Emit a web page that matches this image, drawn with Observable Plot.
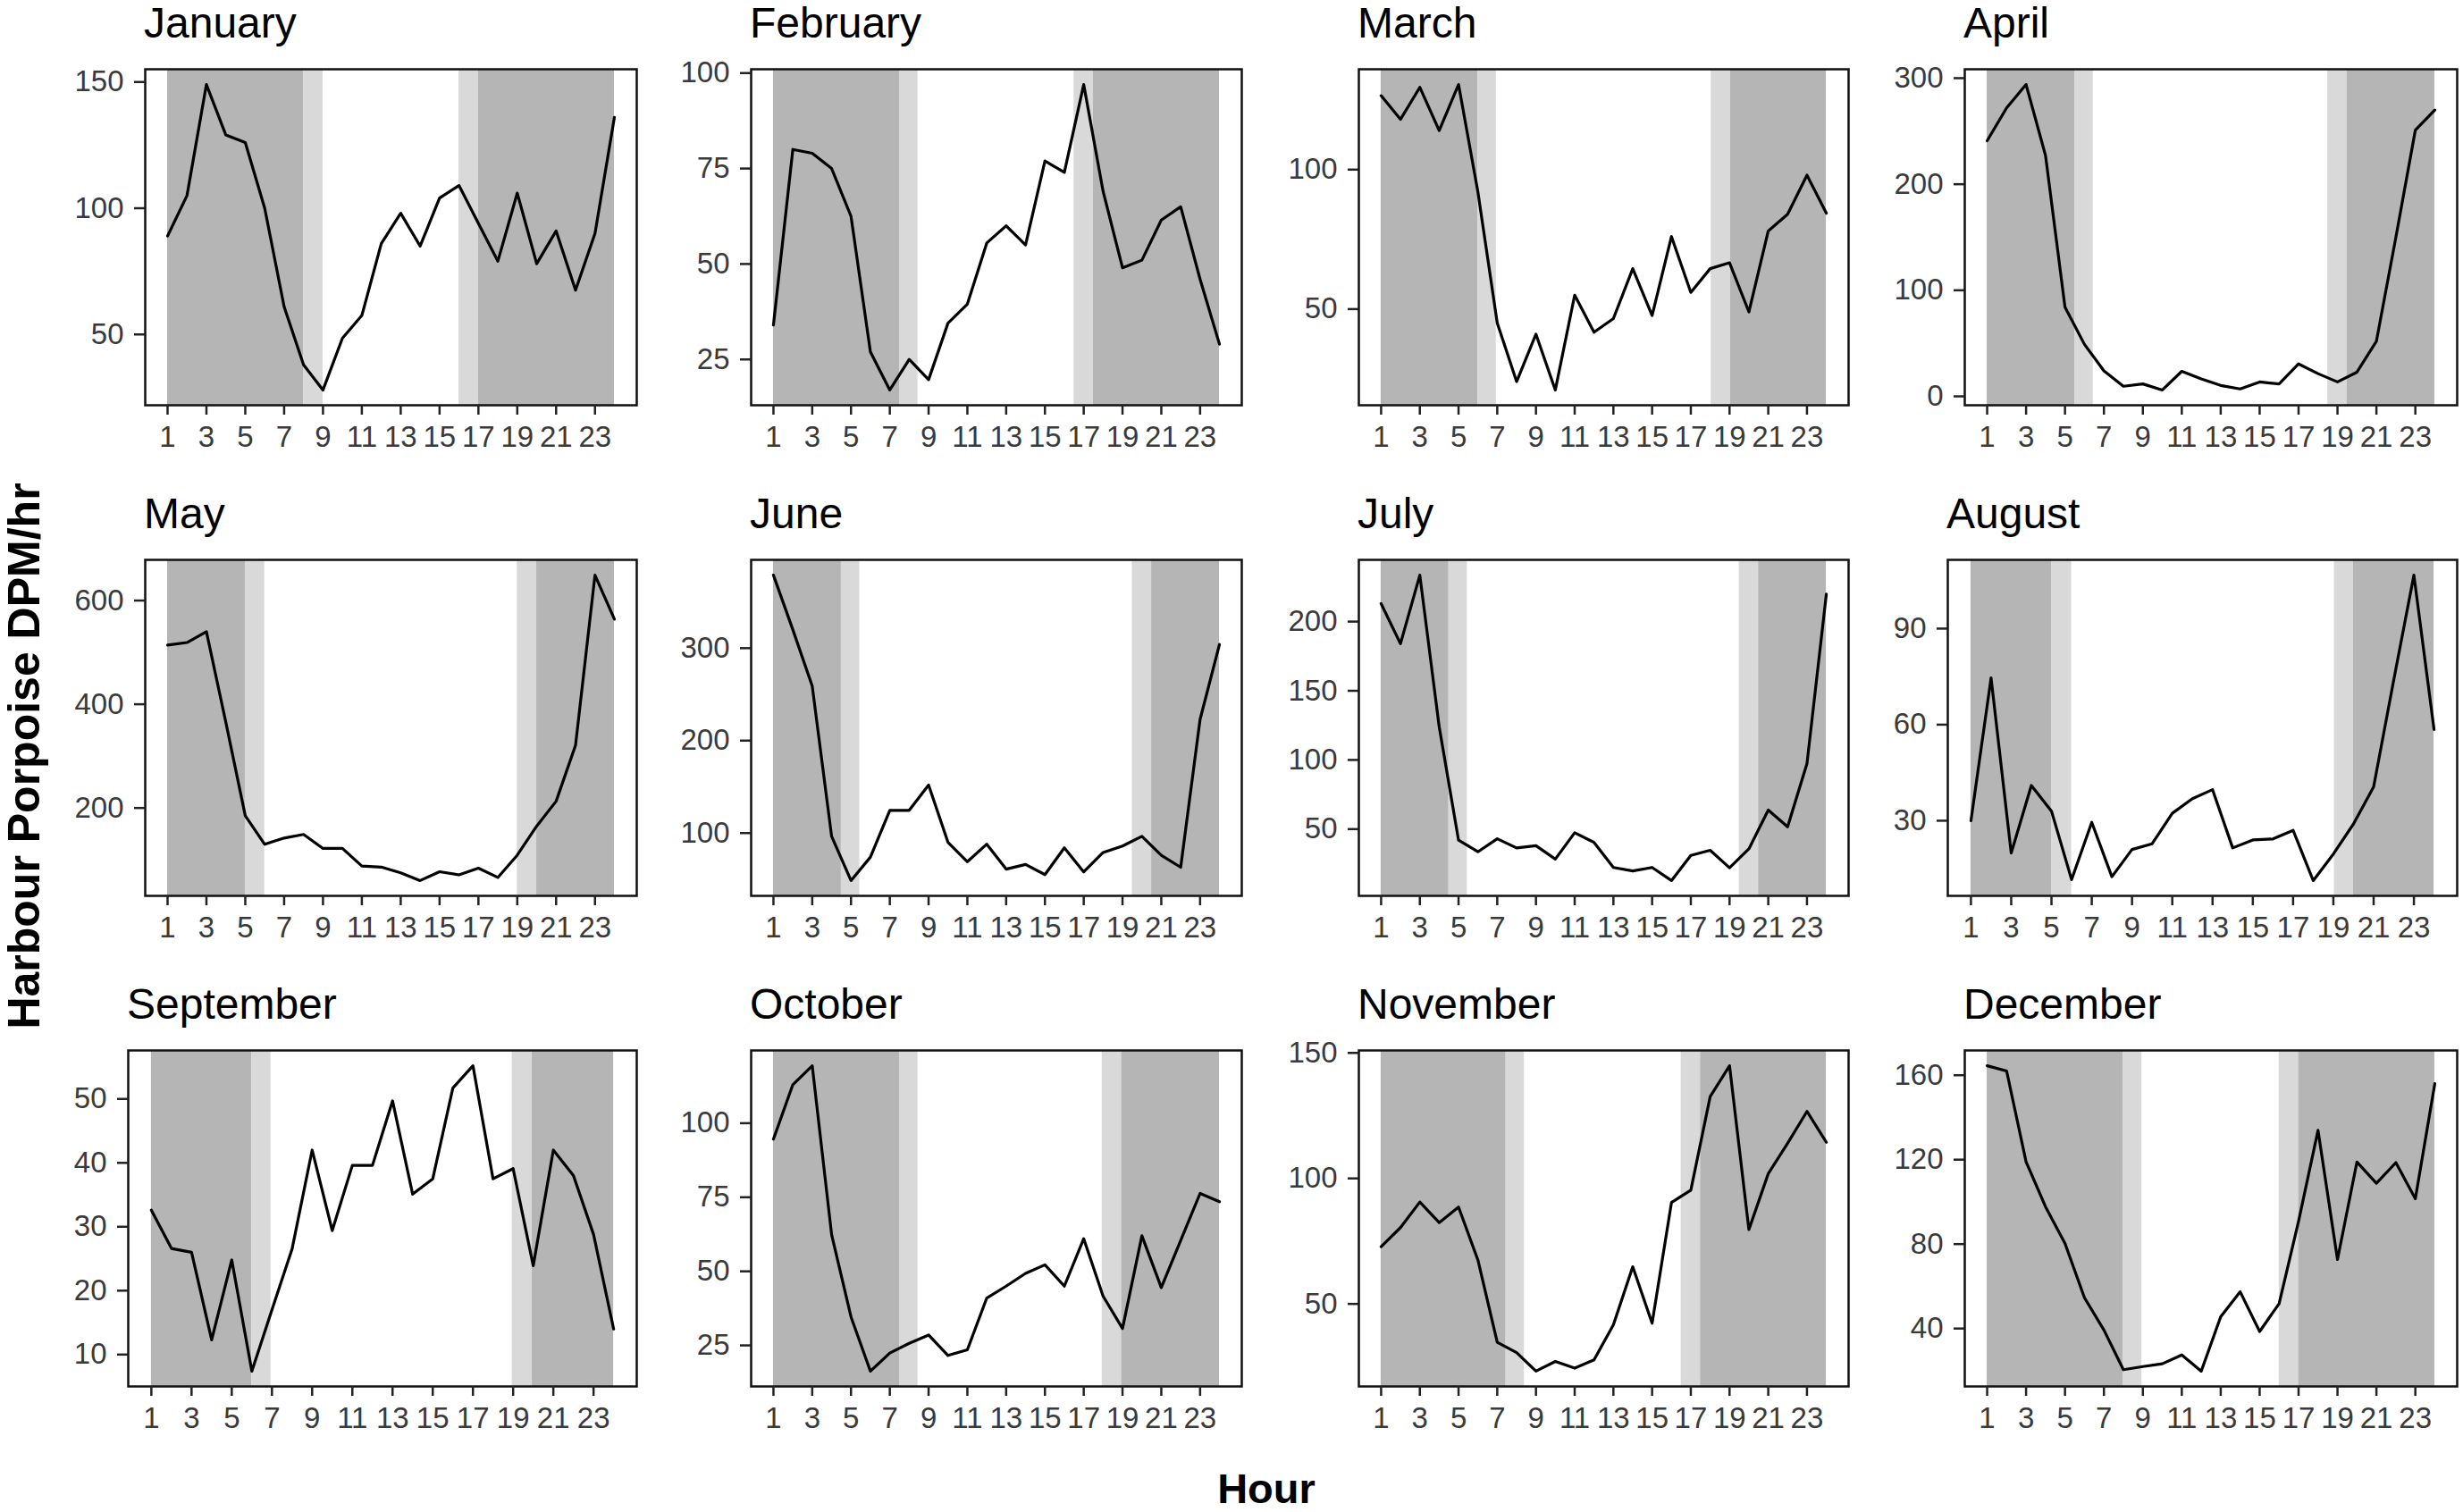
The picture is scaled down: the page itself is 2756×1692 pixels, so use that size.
<!DOCTYPE html>
<html>
<head>
<meta charset="utf-8">
<script src="https://cdn.jsdelivr.net/npm/d3@7"></script>
<script src="https://cdn.jsdelivr.net/npm/@observablehq/plot@0.6"></script>
<style>
  html, body { margin: 0; padding: 0; background: #fff; }
  #fig { position: relative; width: 2756px; height: 1692px; background: #fff; overflow: hidden;
         font-family: "Liberation Sans", Arial, sans-serif; }
  .ptitle { position: absolute; font-size: 48px; line-height: 1; color: #000; white-space: nowrap; }
  .ylab { position: absolute; font-size: 50px; font-weight: bold; line-height: 1; white-space: nowrap;
          writing-mode: vertical-rl; transform: translate(-50%, -50%) rotate(180deg); color: #000; }
  .xlab { position: absolute; font-size: 47px; font-weight: bold; line-height: 1; white-space: nowrap;
          transform: translateX(-50%); color: #000; }
  .cell { position: absolute; }
</style>
</head>
<body>
<div id="fig"></div>
<script>
// ---- data ----
const months = ["January","February","March","April","May","June","July","August","September","October","November","December"];
const hours = [1,2,3,4,5,6,7,8,9,10,11,12,13,14,15,16,17,18,19,20,21,22,23,24];
const xTicks = [1,3,5,7,9,11,13,15,17,19,21,23];

const janVals = [89, 105, 149, 129, 126, 100, 61, 38, 28, 48.5, 57.5, 86, 98, 85, 104, 109, 94, 79, 106, 78, 91, 67.5, 90, 136];
const febVals = [34, 80, 79, 75, 62.5, 27, 17, 25, 19.7, 34.5, 39.5, 55.5, 60, 55, 77, 74, 97, 69, 49, 51, 61.5, 65, 46, 29];
const marVals = [126.5, 118, 129.5, 114, 130.5, 92, 45, 24, 41, 21, 55, 41.7, 46.6, 64.5, 47.7, 76, 56, 64.5, 66.6, 49, 78, 84, 98, 84.4];
const aprVals = [241, 272, 294, 227, 84, 49, 24, 9.5, 11.7, 6, 23.6, 16.4, 10.3, 7, 13.6, 11.7, 30.6, 21.4, 13.6, 22.8, 52, 150, 251, 270];
const mayVals = [514, 519, 540, 365, 185, 130, 142, 149, 122, 122, 88, 86, 75, 60, 77, 71, 84, 66, 109, 165, 213, 321, 649, 564];
const junVals = [379, 320, 259, 96.5, 48.6, 74, 124.6, 124.6, 152, 90, 69, 88, 61, 66, 55, 84, 58, 79, 86, 96.5, 76, 63, 223, 304];
const julVals = [213, 184, 233.6, 124, 42, 33.6, 43, 36.4, 38, 28.3, 47.4, 40.4, 22.3, 19.8, 22.3, 12.8, 31, 34.7, 22, 35.7, 63.8, 51.7, 97.4, 219.8];
const augVals = [30, 74.6, 19.9, 41, 33, 11.6, 29.5, 12.5, 21, 22.8, 32.3, 36.9, 39.7, 21.5, 24, 24.3, 27, 11.3, 19.6, 29, 40.6, 74, 106.7, 58.5];
const sepVals = [32.6, 26.6, 26, 12.3, 24.8, 7.4, 17, 26.5, 42, 29.4, 39.6, 39.6, 49.7, 35.1, 37.5, 51.7, 55.2, 37.5, 39.1, 23.9, 42, 38, 28.8, 14];
const octVals = [94.6, 113, 119.4, 62.4, 34.6, 16.3, 22.4, 25.7, 28.5, 21.6, 23.5, 41, 45, 49.3, 52.2, 45, 61, 41.6, 30.7, 62, 44.5, 60.4, 76.3, 73.5];
const novVals = [72.8, 80.4, 90.6, 82.4, 88.6, 67.5, 34.7, 30.6, 23.2, 27.1, 24.4, 27.7, 41.7, 64.8, 42.3, 90.4, 95.3, 132.6, 144.9, 79.6, 101.9, 114, 126.7, 114.4];
const decVals = [164.5, 162, 119, 97.7, 80.3, 54.6, 39.3, 20.5, 22, 23.3, 27.5, 19.8, 45.6, 57.4, 38.6, 51.8, 90.8, 133.9, 72.7, 118.9, 108.8, 118.6, 101.5, 156];

const series = [janVals, febVals, marVals, aprVals, mayVals, junVals, julVals, augVals, sepVals, octVals, novVals, decVals];

// y tick labels per month
const yTicks = [
  [50,100,150], [25,50,75,100], [50,100], [0,100,200,300],
  [200,400,600], [100,200,300], [50,100,150,200], [30,60,90],
  [10,20,30,40,50], [25,50,75,100], [50,100,150], [40,80,120,160]
];

// night / twilight boundaries (hour)
const nightStart = 1, nightEnd = 24;
const dawnStart = [8, 7.5, 6, 5.5, 5, 4.5, 4.5, 5, 6, 7.5, 7.45, 8];
const dawnEnd   = [9, 8.45, 6.95, 6.45, 6, 5.45, 5.45, 6, 6.95, 8.45, 8.4, 8.95];
const duskStart = [16, 16.5, 18.05, 18.5, 19, 19.5, 19.5, 19.05, 18.95, 17.95, 16.5, 16];
const duskEnd   = [17, 17.5, 19.05, 19.5, 20, 20.5, 20.5, 20, 19.95, 18.95, 17.5, 17];

// ---- layout ----
const fig = document.getElementById("fig");
const colLabelLeft = [82, 760, 1440, 2118];
const colPanelRight = [712, 1389, 2068, 2749];
const rowPanelTop = [77, 626, 1175];
const panelH = 376;
const darkFill = "#b5b5b5", lightFill = "#d9d9d9";

months.forEach((name, i) => {
  const r = Math.floor(i / 4), c = i % 4;
  const vals = series[i];
  const ticks = yTicks[i];
  const digits = d3.max(ticks, t => String(t).length);
  const panelLeft = colLabelLeft[c] + 23 + 19 * digits;
  const svgLeft = colLabelLeft[c] - 14;
  const mTop = 30, mBottom = 72, mRight = 6;
  const svgTop = rowPanelTop[r] - mTop;
  const mLeft = panelLeft - svgLeft;
  const width = colPanelRight[c] + mRight - svgLeft;
  const height = mTop + panelH + mBottom;

  const [lo, hi] = d3.extent(vals);
  const pad = (hi - lo) * 0.05;
  const xPad = (d3.max(hours) - d3.min(hours)) * 0.05;

  const bands = [
    {x1: nightStart, x2: dawnStart[i], fill: darkFill},
    {x1: dawnStart[i], x2: dawnEnd[i], fill: lightFill},
    {x1: duskStart[i], x2: duskEnd[i], fill: lightFill},
    {x1: duskEnd[i], x2: nightEnd, fill: darkFill}
  ];
  const pts = hours.map((h, k) => ({hour: h, v: vals[k]}));

  const chart = Plot.plot({
    width, height,
    marginTop: mTop, marginBottom: mBottom, marginLeft: mLeft, marginRight: mRight,
    style: {fontFamily: "'Liberation Sans', Arial, sans-serif", fontSize: "33px", color: "#333", background: "transparent", overflow: "visible"},
    x: {domain: [d3.min(hours) - xPad, d3.max(hours) + xPad]},
    y: {domain: [lo - pad, hi + pad]},
    marks: [
      Plot.rect(bands, {x1: "x1", x2: "x2", fill: "fill"}),
      Plot.line(pts, {x: "hour", y: "v", stroke: "#000", strokeWidth: 3.2, strokeLinejoin: "round"}),
      Plot.frame({stroke: "#111", strokeWidth: 2.5}),
      Plot.axisX(xTicks, {tickSize: 11, tickPadding: 12, fontSize: 33, strokeWidth: 2.5, label: null, fill: "#3a3a3a", stroke: "#222"}),
      Plot.axisY(ticks, {tickSize: 12, tickPadding: 12, fontSize: 33, strokeWidth: 2.5, label: null, fill: "#3a3a3a", stroke: "#222"})
    ]
  });
  const cell = document.createElement("div");
  cell.className = "cell";
  cell.style.left = svgLeft + "px";
  cell.style.top = svgTop + "px";
  cell.appendChild(chart);
  fig.appendChild(cell);

  const t = document.createElement("div");
  t.className = "ptitle";
  t.textContent = name;
  t.style.left = (panelLeft - 1) + "px";
  t.style.top = (rowPanelTop[r] - 75) + "px";
  fig.appendChild(t);
});

const yl = document.createElement("div");
yl.className = "ylab";
yl.textContent = "Harbour Porpoise DPM/hr";
yl.style.left = "27px";
yl.style.top = "846px";
fig.appendChild(yl);

const xl = document.createElement("div");
xl.className = "xlab";
xl.textContent = "Hour";
xl.style.left = "1417px";
xl.style.top = "1642px";
fig.appendChild(xl);
</script>
</body>
</html>
